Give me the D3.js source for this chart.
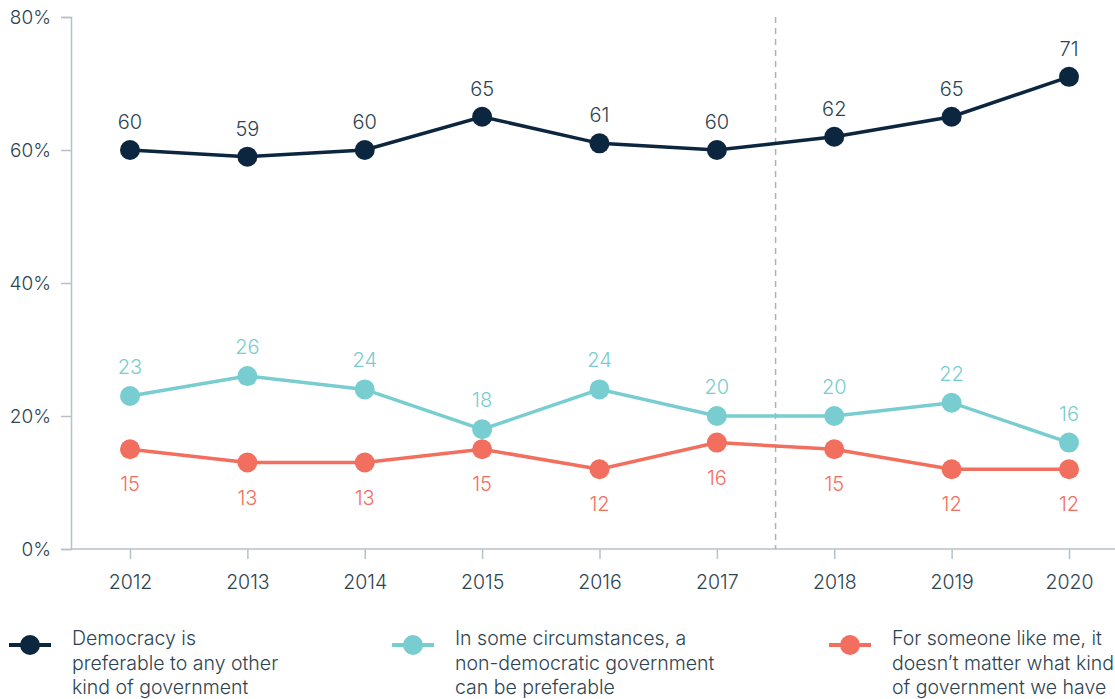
<!DOCTYPE html>
<html><head><meta charset="utf-8">
<script src="https://cdn.jsdelivr.net/npm/d3@7"></script>
<style>body{margin:0;background:#fff;}svg{display:block;font-family:Inter,"Open Sans",sans-serif;font-weight:350;}</style>
</head><body>
<svg id="chart" width="1115" height="699"></svg>
<script>
const years = [2012,2013,2014,2015,2016,2017,2018,2019,2020];
const democracy = [60,59,60,65,61,60,62,65,71];
const nonDemocratic = [23,26,24,18,24,20,20,22,16];
const doesntMatter = [15,13,13,15,12,16,15,12,12];
const yTicks = [0,20,40,60,80];
const seriesNames = [
  ["Democracy is","preferable to any other","kind of government"],
  ["In some circumstances, a","non-democratic government","can be preferable"],
  ["For someone like me, it","doesn\u2019t matter what kind","of government we have"]
];
const colors = ["#0c2640","#77cdd0","#f26e5e"];
const textColor = "#2d4452";
const axisColor = "#b7c2c8";

const svg = d3.select("#chart");
const x = d3.scalePoint().domain(years).range([130,1069]);
const y = d3.scaleLinear().domain([0,80]).range([549,17]);

// y axis
const yAxis = svg.append("g").attr("transform","translate(71,0)")
  .call(d3.axisLeft(y).tickValues(yTicks).tickFormat(d=>d+"%").tickSize(10).tickPadding(10))
  .attr("font-family",null).attr("font-size",null);
yAxis.select(".domain").attr("stroke",axisColor).attr("stroke-width",1.5);
yAxis.selectAll(".tick line").attr("stroke",axisColor).attr("stroke-width",1.5);
yAxis.selectAll(".tick text").attr("fill",textColor).style("font-size","19px");

// x axis
const xAxis = svg.append("g").attr("transform","translate(0,549)")
  .call(d3.axisBottom(x).tickSize(10).tickPadding(16).tickSizeOuter(0))
  .attr("font-family",null).attr("font-size",null);
xAxis.select(".domain").attr("d","M71,0H1115").attr("stroke",axisColor).attr("stroke-width",1.5);
xAxis.selectAll(".tick line").attr("stroke",axisColor).attr("stroke-width",1.5);
xAxis.selectAll(".tick text").attr("fill",textColor).style("font-size","19.5px");

// dashed divider between 2017 and 2018
const xd = (x(2017)+x(2018))/2;
svg.append("line").attr("x1",xd).attr("x2",xd).attr("y1",y(80)).attr("y2",y(0))
  .attr("stroke","#a9b4ba").attr("stroke-width",1.5).attr("stroke-dasharray","6,5");

const series = [democracy, nonDemocratic, doesntMatter];
const labelOffsets = [-28,-29,35];
const line = d3.line().x((d,i)=>x(years[i])).y(d=>y(d));
series.forEach((vals,si)=>{
  const g = svg.append("g");
  g.append("path").datum(vals).attr("d",line).attr("fill","none")
    .attr("stroke",colors[si]).attr("stroke-width",3.5);
  g.selectAll("circle").data(vals).join("circle")
    .attr("cx",(d,i)=>x(years[i])).attr("cy",d=>y(d)).attr("r",10).attr("fill",colors[si]);
  g.selectAll("text").data(vals).join("text")
    .attr("x",(d,i)=>x(years[i])).attr("y",d=>y(d)+labelOffsets[si])
    .attr("text-anchor","middle").attr("dominant-baseline","central")
    .attr("fill",si===0?textColor:colors[si]).style("font-size","20px").text(d=>d);
});

// legend
const legendX = [30,413,850];
legendX.forEach((lx,i)=>{
  const g = svg.append("g");
  g.append("line").attr("x1",lx-21).attr("x2",lx+21).attr("y1",645).attr("y2",645)
    .attr("stroke",colors[i]).attr("stroke-width",4);
  g.append("circle").attr("cx",lx).attr("cy",645).attr("r",10).attr("fill",colors[i]);
  const t = g.append("text").attr("x",lx+42).attr("y",638).attr("dominant-baseline","central")
    .attr("fill",textColor).style("font-size","19.5px");
  seriesNames[i].forEach((s,j)=>{
    t.append("tspan").attr("x",lx+42).attr("dy",j===0?0:24.5).text(s);
  });
});
</script>
</body></html>
